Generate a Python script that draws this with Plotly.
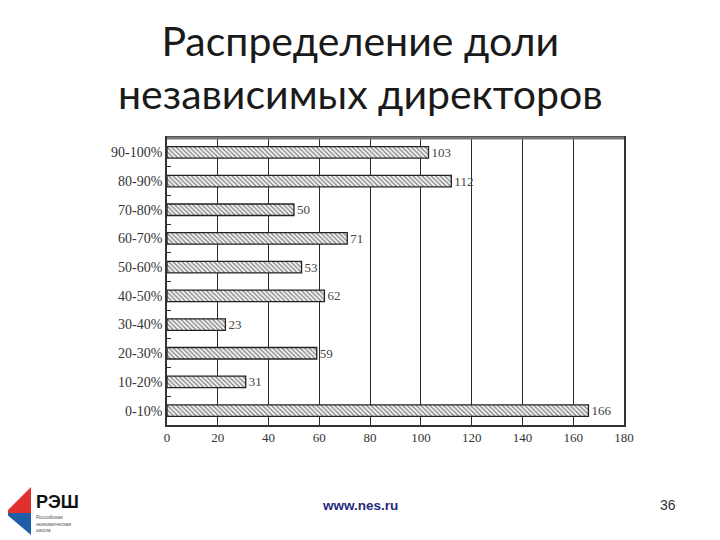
import plotly.graph_objects as go

categories = ["0-10%", "10-20%", "20-30%", "30-40%", "40-50%",
              "50-60%", "60-70%", "70-80%", "80-90%", "90-100%"]
values = [166, 31, 59, 23, 62, 53, 71, 50, 112, 103]
x_ticks = [0, 20, 40, 60, 80, 100, 120, 140, 160, 180]

serif = "Liberation Serif"
OFF = 8  # page body margin offset

L, R, T, B = 167 - OFF, 720 - (624 - OFF), 138 - OFF, 540 - (425 - OFF)

fig = go.Figure()
fig.add_trace(go.Bar(
    x=values, y=categories, orientation="h",
    marker=dict(color="white", line=dict(color="#222", width=1.3),
                pattern=dict(shape="\\", fgcolor="#222", size=3.2, solidity=0.5)),
    text=[str(v) for v in values], textposition="outside",
    constraintext="none",
    textfont=dict(family=serif, size=13, color="#444"),
    cliponaxis=False, width=0.4,
))

fig.update_layout(
    width=720, height=540,
    margin=dict(l=L, r=R, t=T, b=B),
    paper_bgcolor="white", plot_bgcolor="white",
    showlegend=False,
    xaxis=dict(range=[0, 180], tickvals=x_ticks, showgrid=True,
               gridcolor="#2a2a2a", gridwidth=1.4, zeroline=False,
               showline=True, linecolor="#333", linewidth=1.6, mirror=True,
               tickfont=dict(family=serif, size=13, color="#333"), ticks=""),
    yaxis=dict(categoryorder="array", categoryarray=categories,
               showline=True, linecolor="#333", linewidth=1.6, mirror=True,
               ticks="inside", tickson="boundaries", ticklen=4, tickcolor="#333",
               tickfont=dict(family=serif, size=14, color="#333"), showgrid=False),
    font=dict(family="Lato"),
)

px_w = 720 - L - R
px_h = 540 - T - B
def px(xp):
    return (xp - OFF - L) / px_w
def py(yp):
    return (540 - B - (yp - OFF)) / px_h

# thicker gray top border as in the reference
fig.add_shape(type="line", xref="paper", yref="paper", x0=0, x1=1, y0=1, y1=1,
              line=dict(color="#777", width=3))

fig.add_annotation(text="Распределение доли<br>независимых директоров",
                   xref="paper", yref="paper", x=px(360), y=py(67),
                   xanchor="center", yanchor="middle", showarrow=False,
                   font=dict(family="Lato", size=41, color="#1a1a1a"))

fig.add_annotation(text="<b>www.nes.ru</b>", xref="paper", yref="paper",
                   x=px(360), y=py(505), xanchor="center", yanchor="middle",
                   showarrow=False,
                   font=dict(family="Liberation Sans", size=13.5, color="#1f2a80"))
fig.add_annotation(text="36", xref="paper", yref="paper",
                   x=px(668), y=py(505), xanchor="center", yanchor="middle",
                   showarrow=False,
                   font=dict(family="Liberation Sans", size=14, color="#333"))

# logo
fig.add_shape(type="path", xref="paper", yref="paper",
              path=f"M {px(5)} {py(513)} L {px(31)} {py(487)} L {px(31)} {py(513)} Z",
              fillcolor="#e03030", line=dict(width=0))
fig.add_shape(type="path", xref="paper", yref="paper",
              path=f"M {px(5)} {py(513)} L {px(31)} {py(513)} L {px(31)} {py(535)} Z",
              fillcolor="#1f5fa8", line=dict(width=0))
fig.add_annotation(text="<b>РЭШ</b>", xref="paper", yref="paper",
                   x=px(34), y=py(502), xanchor="left", yanchor="middle",
                   showarrow=False,
                   font=dict(family="Liberation Sans", size=18, color="#111"))
fig.add_annotation(text="Российская<br>экономическая<br>школа", xref="paper", yref="paper",
                   x=px(34), y=py(523), xanchor="left", yanchor="middle",
                   showarrow=False, align="left",
                   font=dict(family="Liberation Sans", size=5, color="#555"))

fig.write_html("out.html")
